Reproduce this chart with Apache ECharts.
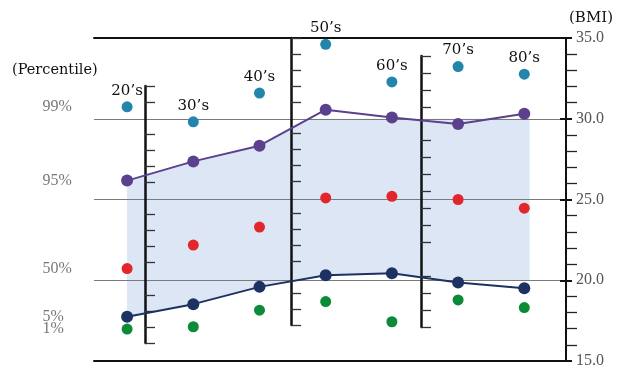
<!DOCTYPE html>
<html>
<head>
<meta charset="utf-8">
<script src="https://cdn.jsdelivr.net/npm/echarts@6/dist/echarts.min.js"></script>
<style>
html,body{margin:0;padding:0;background:#fff;}
#chart{width:624px;height:369px;}
</style>
</head>
<body>
<div id="chart"></div>
<script>
// ---- data ----
const categories = ['20\u2019s','30\u2019s','40\u2019s','50\u2019s','60\u2019s','70\u2019s','80\u2019s'];
const p99 = [30.74, 29.81, 31.59, 34.61, 32.28, 33.23, 32.76];
const p95 = [26.17, 27.36, 28.33, 30.56, 30.08, 29.67, 30.31];
const p50 = [20.72, 22.18, 23.29, 25.10, 25.20, 25.00, 24.46];
const p5  = [17.74, 18.52, 19.59, 20.31, 20.43, 19.86, 19.51];
const p1  = [16.98, 17.12, 18.15, 18.68, 17.43, 18.78, 18.31];
const percentileNames = ['99%', '95%', '50%', '5%', '1%'];
const bandTop = [[0, 26.17], [1, 27.36], [2, 28.33], [2.75, 30], [6.08, 30]];
const bandBottom = [[0, 17.74], [1, 18.52], [2, 19.59], [3, 20.31], [4, 20.43], [4.75, 20], [6.08, 20]];
const bmiMin = 15, bmiMax = 35, bmiStep = 5;
const decoTickCounts = [16, 18, 16];
const decoSkip = [[4, 9, 14], [3, 8, 13], [4, 12]];

// ---- chart ----
const chart = echarts.init(document.getElementById('chart'), null, {renderer: 'canvas'});
const serif = 'DejaVu Serif';
const lib = 'Liberation Serif';

const decoGrids = [
  {left: 145, top: 86, height: 257, width: 10},
  {left: 291, top: 38, height: 287, width: 10},
  {left: 421, top: 56, height: 271, width: 10}
];

const grids = [{left: 94, right: 58, top: 38, bottom: 7}].concat(decoGrids);

const xAxes = [
  {type: 'value', gridIndex: 0, min: -0.5, max: 6.63, position: 'bottom', z: 1,
   axisLine: {show: true, onZero: false, lineStyle: {color: '#111', width: 2}},
   axisTick: {show: false}, axisLabel: {show: false}, splitLine: {show: false}},
  {type: 'value', gridIndex: 0, min: -0.5, max: 6.63, position: 'top', z: 1,
   axisLine: {show: true, onZero: false, lineStyle: {color: '#111', width: 2}},
   axisTick: {show: false}, axisLabel: {show: false}, splitLine: {show: false}}
];
decoGrids.forEach((g, i) => {
  xAxes.push({type: 'value', gridIndex: i + 1, show: false});
});

const yAxes = [
  {type: 'value', gridIndex: 0, position: 'right', min: bmiMin, max: bmiMax, interval: bmiStep, z: 1,
   axisLine: {show: true, onZero: false, lineStyle: {color: '#111', width: 2}},
   axisTick: {show: true, inside: false, length: 6, lineStyle: {color: '#111', width: 2}},
   minorTick: {show: true, splitNumber: 5, length: 11, lineStyle: {color: '#222', width: 1.3}},
   axisLabel: {show: true, margin: 10, color: '#555', fontFamily: lib, fontSize: 16,
               formatter: v => v.toFixed(1)},
   splitLine: {show: true, lineStyle: {color: '#7a7a7a', width: 1}},
   name: '(BMI)', nameLocation: 'end', nameGap: 12,
   nameTextStyle: {color: '#111', fontFamily: serif, fontSize: 15, align: 'left', padding: [0, 0, 0, 3]}},
  {type: 'value', gridIndex: 0, position: 'right', min: bmiMin, max: bmiMax, interval: bmiStep, z: 1,
   axisLine: {show: false, onZero: false},
   axisTick: {show: true, inside: true, length: 6, lineStyle: {color: '#111', width: 2}},
   axisLabel: {show: false}, splitLine: {show: false}}
];
decoGrids.forEach((g, i) => {
  const n = decoTickCounts[i];
  const skip = decoSkip[i];
  yAxes.push({
    type: 'category', gridIndex: i + 1, boundaryGap: false, z: 1,
    data: Array.from({length: n + 1}, (_, k) => String(k)),
    axisLine: {show: true, onZero: false, lineStyle: {color: '#111', width: 2.5}},
    axisTick: {show: true, inside: true, length: 10, lineStyle: {color: '#333', width: 1.3},
               interval: (idx) => skip.indexOf(idx) < 0},
    axisLabel: {show: false}, splitLine: {show: false}
  });
});

function pts(arr) { return arr.map((v, i) => [i, v]); }

const option = {
  animation: false,
  backgroundColor: '#fff',
  title: {text: '(Percentile)', left: 12, top: 63, padding: 0,
          textStyle: {fontFamily: serif, fontSize: 14.5, fontWeight: 'normal', color: '#111'}},
  grid: grids,
  xAxis: xAxes,
  yAxis: yAxes,
  series: [
    {type: 'custom', xAxisIndex: 0, yAxisIndex: 0, z: 0, silent: true,
     data: [[bandTop[0][0], bandTop[0][1]]],
     renderItem: function (params, api) {
       const poly = bandTop.map(p => api.coord(p))
         .concat(bandBottom.slice().reverse().map(p => api.coord(p)));
       return {type: 'polygon', shape: {points: poly}, style: {fill: '#dce6f4'}};
     }},
    {type: 'line', name: '95%', xAxisIndex: 0, yAxisIndex: 0, z: 3,
     data: pts(p95), symbol: 'circle', symbolSize: 12, showSymbol: true,
     itemStyle: {color: '#5b418d'}, lineStyle: {color: '#5b418d', width: 2}},
    {type: 'line', name: '5%', xAxisIndex: 0, yAxisIndex: 0, z: 3,
     data: pts(p5), symbol: 'circle', symbolSize: 12, showSymbol: true,
     itemStyle: {color: '#1c3263'}, lineStyle: {color: '#1c3263', width: 2}},
    {type: 'scatter', name: '99%', xAxisIndex: 0, yAxisIndex: 0, z: 3,
     data: pts(p99), symbolSize: 11, itemStyle: {color: '#2385ab', opacity: 1},
     label: {show: true, position: 'top', distance: 3, color: '#111', fontFamily: serif, fontSize: 15,
             formatter: p => categories[p.dataIndex]}},
    {type: 'scatter', name: '50%', xAxisIndex: 0, yAxisIndex: 0, z: 3,
     data: pts(p50), symbolSize: 11, itemStyle: {color: '#e3262c', opacity: 1}},
    {type: 'scatter', name: '1%', xAxisIndex: 0, yAxisIndex: 0, z: 3,
     data: pts(p1), symbolSize: 11, itemStyle: {color: '#0b8a37', opacity: 1}},
    {type: 'scatter', name: 'labels', xAxisIndex: 0, yAxisIndex: 0, z: 4, silent: true,
     data: [[0, p99[0]], [0, p95[0]], [0, p50[0]], [0, p5[0]], [0, p1[0]]],
     symbolSize: 11, itemStyle: {color: 'rgba(0,0,0,0)'},
     label: {show: true, position: 'left', distance: 79, align: 'left', color: '#555',
             fontFamily: lib, fontSize: 16, formatter: p => percentileNames[p.dataIndex]}}
  ]
};
chart.setOption(option);
</script>
</body>
</html>
